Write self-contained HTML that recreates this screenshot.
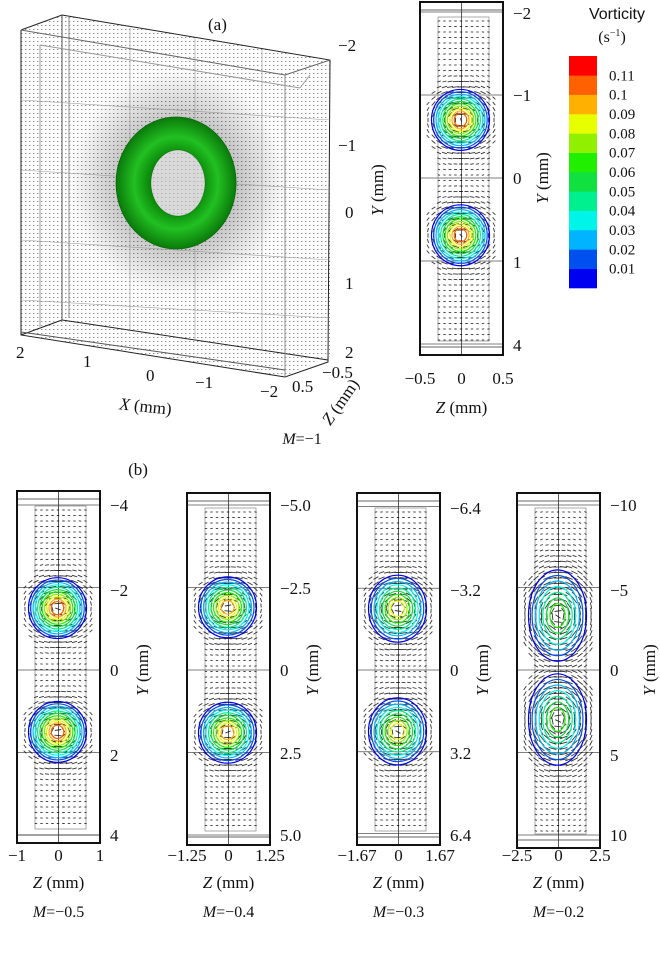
<!DOCTYPE html>
<html><head><meta charset="utf-8">
<style>
body{margin:0;background:#fff;}
svg{display:block;font-family:"Liberation Serif",serif;}
text{fill:#111;}
</style></head>
<body>
<svg id="fig" width="660" height="971" viewBox="0 0 660 971">
<defs>
<pattern id="dots" width="4" height="4" patternUnits="userSpaceOnUse">
<rect x="1" y="1" width="1.4" height="1" fill="#333"/>
</pattern>
<radialGradient id="halo" cx="0.5" cy="0.5" r="0.5">
<stop offset="0.4" stop-color="#000" stop-opacity="0.5"/><stop offset="1" stop-color="#000" stop-opacity="0"/>
</radialGradient>
<radialGradient id="torusG" cx="0.5" cy="0.5" r="0.5">
<stop offset="0.45" stop-color="#0a8a0a"/><stop offset="0.7" stop-color="#22c022"/><stop offset="1" stop-color="#0a7a0a"/>
</radialGradient>
</defs>

<g>
<polygon points="62,15 330,60 330,355 285,377 21,335 21,30" fill="url(#dots)" opacity="0.55"/>
<ellipse cx="178" cy="183" rx="110" ry="115" fill="url(#halo)" opacity="0.6"/>
<g fill="none" stroke="#222" stroke-width="1">
<polyline points="21,30 62,15 330,60 328,362 285,377 21,335 21,30"/>
<line x1="62" y1="15" x2="62" y2="320" stroke="#555"/>
<line x1="69" y1="17" x2="69" y2="318" stroke="#888"/>
<line x1="62" y1="320" x2="328" y2="360"/>
<line x1="21" y1="335" x2="62" y2="320"/>
<line x1="285" y1="377" x2="285" y2="75" stroke="#888"/>
<line x1="21" y1="30" x2="285" y2="75" stroke="#666"/>
<line x1="285" y1="75" x2="330" y2="60" stroke="#666"/>
<line x1="40" y1="45" x2="300" y2="88" stroke="#999"/>
<line x1="300" y1="88" x2="310" y2="75" stroke="#999"/>
<line x1="40" y1="45" x2="40" y2="328" stroke="#999"/>
<line x1="21" y1="332" x2="285" y2="370" stroke="#555"/>
</g>
<g stroke="#999" stroke-width="0.6">
<line x1="21" y1="100" x2="330" y2="120"/><line x1="21" y1="170" x2="330" y2="190"/>
<line x1="21" y1="240" x2="330" y2="260"/><line x1="21" y1="300" x2="330" y2="318"/>
<line x1="130" y1="28" x2="130" y2="330"/><line x1="195" y1="38" x2="195" y2="340"/><line x1="262" y1="50" x2="262" y2="350"/>
</g>
<g>
<path d="M176,117 a60,66 0 1,0 0.1,0 Z M178,150 a27,33 0 1,1 -0.1,0 Z" fill="url(#torusG)" fill-rule="evenodd" stroke="#0a6a0a" stroke-width="0.8"/>
<ellipse cx="178" cy="183" rx="27" ry="33" fill="#fff" opacity="0.5"/>
</g>
<text x="208" y="30" font-size="17">(a)</text>
<g font-size="17">
<text x="338" y="51">−2</text><text x="338" y="151">−1</text><text x="345" y="218">0</text><text x="345" y="289">1</text><text x="345" y="358">2</text>
</g>
<text transform="translate(383,190) rotate(-90)" font-size="17" text-anchor="middle"><tspan font-style="italic">Y</tspan> (mm)</text>
<g font-size="17">
<text x="16" y="358">2</text><text x="83" y="367">1</text><text x="146" y="381">0</text><text x="195" y="388">−1</text><text x="260" y="397">−2</text>
</g>
<text transform="translate(145,412) rotate(6)" font-size="17" text-anchor="middle"><tspan font-style="italic">X</tspan> (mm)</text>
<g font-size="17"><text x="292" y="392">0.5</text><text x="322" y="378">−0.5</text></g>
<text transform="translate(345,405) rotate(-55)" font-size="17" text-anchor="middle"><tspan font-style="italic">Z</tspan> (mm)</text>
<text x="302" y="444" font-size="16" text-anchor="middle"><tspan font-style="italic">M</tspan>=−1</text>
</g>

<g id="cbar">
<text x="617" y="19" font-family="Liberation Sans, sans-serif" font-size="16" text-anchor="middle">Vorticity</text>
<text x="612" y="42" font-size="16" text-anchor="middle">(s<tspan font-size="10" dy="-6">−1</tspan><tspan dy="6">)</tspan></text>
</g>
<text x="138" y="475" font-size="17" text-anchor="middle">(b)</text>
<g id="panels"></g>
</svg>
<script>
// colorbar data
const cbLevels = ["0.01","0.02","0.03","0.04","0.05","0.06","0.07","0.08","0.09","0.1","0.11"];
const cbColors = ["#0000f0","#0050f0","#00b4ff","#00f4e8","#00f090","#10e040","#20f000","#90f000","#e8ff00","#ffb000","#ff6000","#ff0000"];

// panel data
const panelYTicks = [["−2","−1","0","1","4"],["−4","−2","0","2","4"],["−5.0","−2.5","0","2.5","5.0"],["−6.4","−3.2","0","3.2","6.4"],["−10","−5","0","5","10"]];
const panelTickStep = [1,2,2.5,3.2,5];
const panelZTicks = [["−0.5","0","0.5"],["−1","0","1"],["−1.25","0","1.25"],["−1.67","0","1.67"],["−2.5","0","2.5"]];
const panelMLabels = ["","−0.5","−0.4","−0.3","−0.2"];
const vortexY = [[-0.7,0.69],[-1.5,1.5],[-1.9,1.9],[-2.4,2.4],[-3.3,3.0]]; // vortex centres, mm
const peakLevel = [11,11,10,9,7];
const vortexStretch = [1,1,1,1.1,1.5];

const NS="http://www.w3.org/2000/svg";
const svg=document.getElementById('fig');
function el(tag,attrs,parent){const e=document.createElementNS(NS,tag);for(const k in attrs)e.setAttribute(k,attrs[k]);(parent||svg).appendChild(e);return e;}

const cb=document.getElementById('cbar');
const cbX=569,cbW=28,cbTop=56,cbBot=288;
const segH=(cbBot-cbTop)/cbColors.length;
cbColors.forEach((c,i)=>{
  const r=el('rect',{x:cbX,y:cbBot-(i+1)*segH,width:cbW,height:segH+0.3,fill:c},cb);
  
  
});
cbLevels.forEach((l,i)=>{
  const t=el('text',{x:609,y:cbBot-(i+1)*segH+5,'font-size':15},cb);
  t.textContent=l;
  
  
});

const geom=[
 {x0:420,x1:503,y0:2,y1:355,tick:[13,95,178,262,345],zy:384,ylab:548},
 {x0:17,x1:100,y0:491,y1:843,tick:[505,590,670,755,835],zy:861,ylab:148},
 {x0:187,x1:270,y0:493,y1:845,tick:[505,588,670,753,835],zy:861,ylab:318},
 {x0:357,x1:440,y0:493,y1:845,tick:[508,590,670,753,835],zy:861,ylab:488},
 {x0:517,x1:600,y0:493,y1:848,tick:[505,590,670,755,835],zy:861,ylab:655}
];
const panels=document.getElementById('panels');
geom.forEach((g,p)=>{
  const G=el('g',{},panels);
  
  
  const cx=(g.x0+g.x1)/2;
  const pxPerStep=(g.tick[4]-g.tick[0])/4;
  const pxPerMm=pxPerStep/panelTickStep[p];
  const yc=g.tick[2];
  const ix0=g.x0+18,ix1=g.x1-14,iy0=g.y0+15,iy1=g.y1-14;
  el('rect',{x:ix0,y:iy0,width:ix1-ix0,height:iy1-iy0,fill:'none',stroke:'#888','stroke-width':0.7},G);
  for(let k=-3;k<=3;k++){const yy=yc+k*pxPerStep;if(yy>g.y0&&yy<g.y1)el('line',{x1:g.x0,x2:g.x1,y1:yy,y2:yy,stroke:'#555','stroke-width':0.7},G);}
  el('line',{x1:cx,x2:cx,y1:g.y0,y2:g.y1,stroke:'#333','stroke-width':0.8},G);
  el('line',{x1:g.x0,x2:g.x1,y1:g.y0+8,y2:g.y0+8,stroke:'#333','stroke-width':0.8},G);
  el('line',{x1:g.x0,x2:g.x1,y1:g.y1-8,y2:g.y1-8,stroke:'#333','stroke-width':0.8},G);
  const centers=vortexY[p].map(v=>yc+v*pxPerMm);
  const st=vortexStretch[p];
  let d='';
  for(let y=iy0+4;y<iy1;y+=5.5){for(let x=ix0-10;x<ix1+8;x+=5.5){
    let best=centers[0];centers.forEach(c=>{if(Math.abs(y-c)<Math.abs(y-best))best=c;});
    const dx=x-cx,dy=(y-best)/st,r=Math.hypot(dx,dy)+0.01;
    if((x<ix0||x>ix1)&&r>40)continue;
    const sgn=best<yc?1:-1;
    const mag=Math.min(4,Math.max(1.2,4*Math.exp(-Math.pow((r-18)/22,2))+1));
    const ux=-dy/r*sgn*mag,uy=dx/r*sgn*mag*st*0.6;
    d+=`M${(x-ux).toFixed(1)},${(y-uy).toFixed(1)}L${(x+ux).toFixed(1)},${(y+uy).toFixed(1)}`;
  }}
  const vf=el('path',{d:d,stroke:'#111','stroke-width':0.9,opacity:0.85,fill:'none'},G);
  
  
  centers.forEach(c=>{
    const n=peakLevel[p];
    for(let k=0;k<n;k++){
      const r=29-k*25/n;
      const e=el('ellipse',{cx:cx-1,cy:c,rx:r,ry:r*st*1.05,fill:'none',stroke:cbColors[k],'stroke-width':1.2},G);
      
      
    }
  });
  el('rect',{x:g.x0,y:g.y0,width:g.x1-g.x0,height:g.y1-g.y0,fill:'none',stroke:'#111','stroke-width':2},G);
  panelYTicks[p].forEach((t,i)=>{
    const tx=el('text',{x:g.x1+10,y:g.tick[i]+6,'font-size':17},G);tx.textContent=t;
    
    
  });
  panelZTicks[p].forEach((t,i)=>{
    const tx=el('text',{x:g.x0+i*(g.x1-g.x0)/2,y:g.zy,'font-size':17,'text-anchor':'middle'},G);tx.textContent=t;
    
    
  });
  const zt=el('text',{x:cx,y:g.zy+(p===0?29:27),'font-size':17,'text-anchor':'middle'},G);
  zt.innerHTML='<tspan font-style="italic">Z</tspan> (mm)';
  
  
  const yt=el('text',{transform:`translate(${g.ylab},${p===0?178:670}) rotate(-90)`,'font-size':17,'text-anchor':'middle'},G);
  yt.innerHTML='<tspan font-style="italic">Y</tspan> (mm)';
  
  
  if(p>0){
    const mt=el('text',{x:cx,y:917,'font-size':16,'text-anchor':'middle'},G);
    mt.innerHTML='<tspan font-style="italic">M</tspan>='+panelMLabels[p];
    
    
  }
});
</script>
</body></html>
